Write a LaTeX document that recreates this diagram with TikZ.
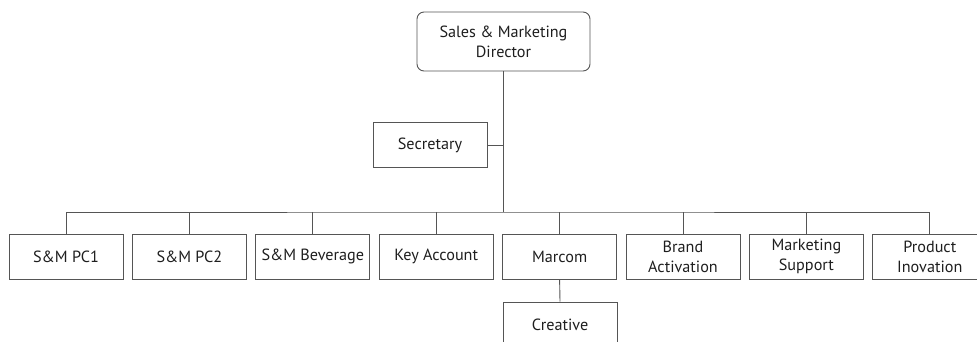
\documentclass[tikz,border=0pt]{standalone}
\usepackage{fontspec}
\setmainfont{PT Sans}
\usetikzlibrary{positioning,calc}

\definecolor{linegray}{HTML}{555555}
\definecolor{textdark}{HTML}{1E1E1E}

\tikzset{
  unit/.style={draw=linegray, line width=0.9pt, minimum width=114pt, minimum height=45pt,
    align=center, text=textdark, inner sep=2pt, font=\fontsize{16.2}{20}\selectfont},
  head/.style={unit, rounded corners=7pt, minimum width=173pt, minimum height=59pt},
  link/.style={draw=linegray, line width=0.9pt},
}

\begin{document}
\begin{tikzpicture}[x=1pt, y=1pt]
    \useasboundingbox (0,0) rectangle (977,-341);
    \clip (0,0) rectangle (977,-341);

    % Director and secretary
    \node[head] (dir) at (503.5,-41.5) {Sales \& Marketing\\Director};
    \node[unit] (sec) at (430,-145) {Secretary};
    \coordinate (bus) at (503.5,-212);

    % Departments
    \foreach \i/\name/\txt in {0/pc1/S\&M PC1, 1/pc2/S\&M PC2, 2/bev/S\&M Beverage, 3/key/Key Account,
        4/marcom/Marcom, 5/brand/Brand\\Activation, 6/support/Marketing\\Support, 7/inov/Product\\Inovation} {
        \node[unit] (\name) at ({66+123.4*\i},-256.5) {\txt};
    }
    \node[unit] (creative) at (560,-324.5) {Creative};

    % Lines
    \draw[link] (dir.south) -- (bus);
    \draw[link] (sec.east) -- (sec.east -| dir.south);
    \draw[link] (pc1.north) |- (bus) -| (inov.north);
    \foreach \name in {pc2,bev,key,marcom,brand,support} {
        \draw[link] (\name.north) -- (\name.north |- bus);
    }
    \draw[link] (marcom.south) -- (creative.north);
\end{tikzpicture}
\end{document}
